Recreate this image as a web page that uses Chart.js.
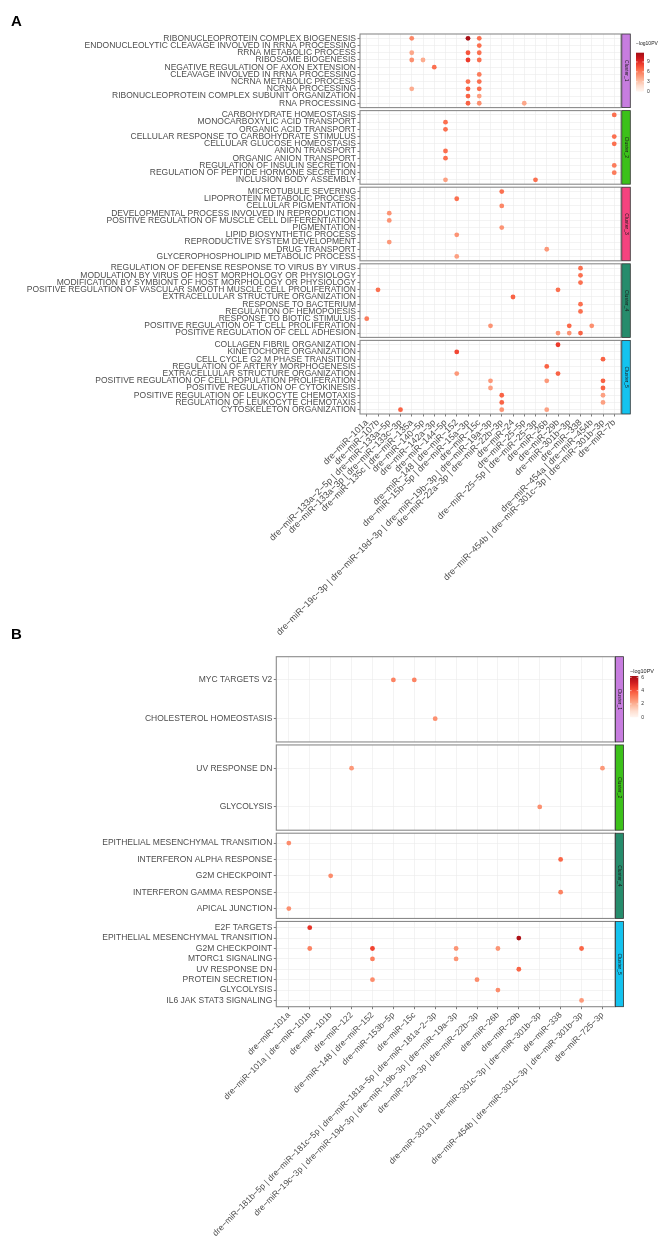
<!DOCTYPE html>
<html>
<head>
<meta charset="utf-8">
<script src="https://cdn.jsdelivr.net/npm/chart.js@4.4.1/dist/chart.umd.min.js"></script>
<style>
  html, body { margin: 0; padding: 0; background: #fff; }
  body { width: 661px; height: 1239px; position: relative; overflow: hidden; }
  canvas { position: absolute; left: 0; }
</style>
</head>
<body>
<canvas id="panelA" width="661" height="660" style="top:0;width:661px;height:660px"></canvas>
<canvas id="panelB" width="661" height="624" style="top:615px;width:661px;height:624px"></canvas>
<script>
// ---- panel A data ----
const A_MIRNAS = [
  'dre-miR-101a', 'dre-miR-107b', 'dre-miR-133a-2-5p | dre-miR-133a-5p',
  'dre-miR-133a-3p | dre-miR-133c-3p', 'dre-miR-135c | dre-miR-135a', 'dre-miR-140-5p',
  'dre-miR-142a-3p', 'dre-miR-144-5p', 'dre-miR-148 | dre-miR-152',
  'dre-miR-15b-5p | dre-miR-15a-3p', 'dre-miR-15c',
  'dre-miR-19c-3p | dre-miR-19d-3p | dre-miR-19b-3p | dre-miR-19a-3p',
  'dre-miR-22a-3p | dre-miR-22b-3p', 'dre-miR-24', 'dre-miR-25-5p',
  'dre-miR-25-5p | dre-miR-25-3p', 'dre-miR-26b', 'dre-miR-29b', 'dre-miR-301b-3p',
  'dre-miR-338', 'dre-miR-454a | dre-miR-454b',
  'dre-miR-454b | dre-miR-301c-3p | dre-miR-301b-3p', 'dre-miR-7b'
];
const A_CLUSTERS = ['Cluster_1', 'Cluster_2', 'Cluster_3', 'Cluster_4', 'Cluster_5'];

const A_C1_TERMS = ['RIBONUCLEOPROTEIN COMPLEX BIOGENESIS', 'ENDONUCLEOLYTIC CLEAVAGE INVOLVED IN RRNA PROCESSING',
  'RRNA METABOLIC PROCESS', 'RIBOSOME BIOGENESIS', 'NEGATIVE REGULATION OF AXON EXTENSION',
  'CLEAVAGE INVOLVED IN RRNA PROCESSING', 'NCRNA METABOLIC PROCESS', 'NCRNA PROCESSING',
  'RIBONUCLEOPROTEIN COMPLEX SUBUNIT ORGANIZATION', 'RNA PROCESSING'];
const A_C2_TERMS = ['CARBOHYDRATE HOMEOSTASIS', 'MONOCARBOXYLIC ACID TRANSPORT', 'ORGANIC ACID TRANSPORT',
  'CELLULAR RESPONSE TO CARBOHYDRATE STIMULUS', 'CELLULAR GLUCOSE HOMEOSTASIS', 'ANION TRANSPORT',
  'ORGANIC ANION TRANSPORT', 'REGULATION OF INSULIN SECRETION', 'REGULATION OF PEPTIDE HORMONE SECRETION',
  'INCLUSION BODY ASSEMBLY'];
const A_C3_TERMS = ['MICROTUBULE SEVERING', 'LIPOPROTEIN METABOLIC PROCESS', 'CELLULAR PIGMENTATION',
  'DEVELOPMENTAL PROCESS INVOLVED IN REPRODUCTION', 'POSITIVE REGULATION OF MUSCLE CELL DIFFERENTIATION',
  'PIGMENTATION', 'LIPID BIOSYNTHETIC PROCESS', 'REPRODUCTIVE SYSTEM DEVELOPMENT', 'DRUG TRANSPORT',
  'GLYCEROPHOSPHOLIPID METABOLIC PROCESS'];
const A_C4_TERMS = ['REGULATION OF DEFENSE RESPONSE TO VIRUS BY VIRUS', 'MODULATION BY VIRUS OF HOST MORPHOLOGY OR PHYSIOLOGY',
  'MODIFICATION BY SYMBIONT OF HOST MORPHOLOGY OR PHYSIOLOGY',
  'POSITIVE REGULATION OF VASCULAR SMOOTH MUSCLE CELL PROLIFERATION', 'EXTRACELLULAR STRUCTURE ORGANIZATION',
  'RESPONSE TO BACTERIUM', 'REGULATION OF HEMOPOIESIS', 'RESPONSE TO BIOTIC STIMULUS',
  'POSITIVE REGULATION OF T CELL PROLIFERATION', 'POSITIVE REGULATION OF CELL ADHESION'];
const A_C5_TERMS = ['COLLAGEN FIBRIL ORGANIZATION', 'KINETOCHORE ORGANIZATION', 'CELL CYCLE G2 M PHASE TRANSITION',
  'REGULATION OF ARTERY MORPHOGENESIS', 'EXTRACELLULAR STRUCTURE ORGANIZATION',
  'POSITIVE REGULATION OF CELL POPULATION PROLIFERATION', 'POSITIVE REGULATION OF CYTOKINESIS',
  'POSITIVE REGULATION OF LEUKOCYTE CHEMOTAXIS', 'REGULATION OF LEUKOCYTE CHEMOTAXIS', 'CYTOSKELETON ORGANIZATION'];

// hits: [term index, miRNA index, -log10PV]
const A_C1_HITS = [[0, 4, 5.5], [0, 9, 11.6], [0, 10, 6.5], [1, 10, 6.5], [2, 4, 4.2], [2, 9, 7.5], [2, 10, 6.5],
  [3, 4, 5.2], [3, 5, 4.0], [3, 9, 8.5], [3, 10, 6.5], [4, 6, 6.5], [5, 10, 6.0], [6, 9, 6.5], [6, 10, 6.5],
  [7, 4, 4.0], [7, 9, 7.0], [7, 10, 6.5], [8, 9, 7.0], [8, 10, 4.5], [9, 9, 7.0], [9, 10, 5.2], [9, 14, 4.2]];
const A_C2_HITS = [[0, 22, 6.5], [1, 7, 6.5], [2, 7, 6.5], [3, 22, 6.5], [4, 22, 6.5], [5, 7, 6.5], [6, 7, 6.5],
  [7, 22, 6.0], [8, 22, 6.0], [9, 7, 4.5], [9, 15, 6.5]];
const A_C3_HITS = [[0, 12, 6.5], [1, 8, 6.5], [2, 12, 5.5], [3, 2, 5.0], [4, 2, 5.0], [5, 12, 5.0], [6, 8, 5.0],
  [7, 2, 4.8], [8, 16, 4.8], [9, 8, 4.5]];
const A_C4_HITS = [[0, 19, 6.5], [1, 19, 6.5], [2, 19, 6.5], [3, 1, 6.5], [3, 17, 6.5], [4, 13, 7.0], [5, 19, 6.5],
  [6, 19, 6.5], [7, 0, 6.0], [8, 11, 5.0], [8, 18, 6.8], [8, 20, 5.2], [9, 17, 5.0], [9, 18, 5.0], [9, 19, 7.0]];
const A_C5_HITS = [[0, 17, 8.5], [1, 8, 8.0], [2, 21, 7.0], [3, 16, 7.0], [4, 8, 4.8], [4, 17, 7.0], [5, 11, 4.8],
  [5, 16, 4.8], [5, 21, 7.0], [6, 11, 4.5], [6, 21, 7.0], [7, 12, 7.0], [7, 21, 4.5], [8, 12, 7.0], [8, 21, 4.5],
  [9, 3, 7.0], [9, 12, 5.0], [9, 16, 4.5]];
const A_LEGEND_TICKS = [0, 3, 6, 9];
const A_MAX = 11.8;

// ---- panel B data ----
const B_MIRNAS = [
  'dre-miR-101a', 'dre-miR-101a | dre-miR-101b', 'dre-miR-101b', 'dre-miR-122', 'dre-miR-148 | dre-miR-152',
  'dre-miR-153b-5p', 'dre-miR-15c',
  'dre-miR-181b-5p | dre-miR-181c-5p | dre-miR-181a-5p | dre-miR-181a-2-3p',
  'dre-miR-19c-3p | dre-miR-19d-3p | dre-miR-19b-3p | dre-miR-19a-3p',
  'dre-miR-22a-3p | dre-miR-22b-3p', 'dre-miR-26b', 'dre-miR-29b',
  'dre-miR-301a | dre-miR-301c-3p | dre-miR-301b-3p', 'dre-miR-338',
  'dre-miR-454b | dre-miR-301c-3p | dre-miR-301b-3p', 'dre-miR-725-3p'
];
const B_CLUSTERS = ['Cluster_1', 'Cluster_2', 'Cluster_4', 'Cluster_5'];
const B_C1_TERMS = ['MYC TARGETS V2', 'CHOLESTEROL HOMEOSTASIS'];
const B_C2_TERMS = ['UV RESPONSE DN', 'GLYCOLYSIS'];
const B_C4_TERMS = ['EPITHELIAL MESENCHYMAL TRANSITION', 'INTERFERON ALPHA RESPONSE', 'G2M CHECKPOINT',
  'INTERFERON GAMMA RESPONSE', 'APICAL JUNCTION'];
const B_C5_TERMS = ['E2F TARGETS', 'EPITHELIAL MESENCHYMAL TRANSITION', 'G2M CHECKPOINT', 'MTORC1 SIGNALING',
  'UV RESPONSE DN', 'PROTEIN SECRETION', 'GLYCOLYSIS', 'IL6 JAK STAT3 SIGNALING'];
const B_C1_HITS = [[0, 5, 3.0], [0, 6, 3.0], [1, 7, 2.7]];
const B_C2_HITS = [[0, 3, 2.5], [0, 15, 2.5], [1, 12, 2.7]];
const B_C4_HITS = [[0, 0, 2.8], [1, 13, 3.6], [2, 2, 2.8], [3, 13, 3.0], [4, 0, 2.7]];
const B_C5_HITS = [[0, 1, 4.6], [1, 11, 6.0], [2, 1, 3.0], [2, 4, 4.3], [2, 8, 2.6], [2, 10, 2.6], [2, 14, 3.6],
  [3, 4, 3.1], [3, 8, 2.6], [4, 11, 3.6], [5, 4, 2.8], [5, 9, 2.8], [6, 10, 2.8], [7, 14, 2.5]];
const B_LEGEND_TICKS = [0, 2, 4, 6];
const B_MAX = 6.2;

const STRIP_COLORS = { Cluster_1: '#c77ddf', Cluster_2: '#3cc11a', Cluster_3: '#f5437f', Cluster_4: '#268c6c', Cluster_5: '#14c3ef' };
const REDS = ['#fff5f0', '#fee0d2', '#fcbba1', '#fc9272', '#fb6a4a', '#ef3b2c', '#cb181d', '#a50f15'];
const FONT = "'Liberation Sans', Arial, sans-serif";

function hexRgb(c) { return [1, 3, 5].map(i => parseInt(c.substr(i, 2), 16)); }
function redsAt(t) {
  t = Math.max(0, Math.min(1, t));
  const p = t * (REDS.length - 1);
  const i = Math.min(Math.floor(p), REDS.length - 2);
  const f = p - i;
  const a = hexRgb(REDS[i]), b = hexRgb(REDS[i + 1]);
  return 'rgb(' + a.map((v, k) => Math.round(v + (b[k] - v) * f)).join(',') + ')';
}
const disp = s => s.replace(/-/g, '\u2212');

// facet_grid style: each facet same height, rows spread with 0.6 expansion
function facetLayout(termLists, facetH, gap) {
  let top = 0;
  return termLists.map(terms => {
    const unit = facetH / (terms.length - 1 + 1.2);
    const f = { top, bottom: top + facetH, rows: terms.map((_, i) => top + (0.6 + i) * unit) };
    top += facetH + gap;
    return f;
  });
}

const facetPlugin = {
  id: 'facets',
  beforeDatasetsDraw(chart, args, o) {
    const { ctx, chartArea: a } = chart;
    const y = chart.scales.y;
    ctx.save();
    ctx.fillStyle = '#fff';
    o.facets.forEach((f, i) => {
      if (!i) return;
      const b0 = y.getPixelForValue(o.facets[i - 1].bottom);
      const t1 = y.getPixelForValue(f.top);
      ctx.fillRect(a.left - 1, b0, a.width + 2, t1 - b0);
    });
    ctx.strokeStyle = '#8a8a8a';
    ctx.lineWidth = 1.1;
    o.facets.forEach(f => {
      const t = y.getPixelForValue(f.top), b = y.getPixelForValue(f.bottom);
      ctx.strokeRect(a.left, t, a.width, b - t);
    });
    ctx.restore();
  },
  afterDraw(chart, args, o) {
    const { ctx, chartArea: a } = chart;
    const y = chart.scales.y;
    ctx.save();
    // strips
    o.facets.forEach((f, i) => {
      const t = y.getPixelForValue(f.top), b = y.getPixelForValue(f.bottom);
      const x0 = a.right + o.stripGap;
      ctx.fillStyle = STRIP_COLORS[o.clusters[i]];
      ctx.fillRect(x0, t, o.stripW, b - t);
      ctx.strokeStyle = '#333';
      ctx.lineWidth = 0.8;
      ctx.strokeRect(x0, t, o.stripW, b - t);
      ctx.save();
      ctx.translate(x0 + o.stripW / 2, (t + b) / 2);
      ctx.rotate(Math.PI / 2);
      ctx.fillStyle = '#1a1a1a';
      ctx.font = '5px ' + FONT;
      ctx.textAlign = 'center';
      ctx.textBaseline = 'middle';
      ctx.fillText(o.clusters[i], 0, 0);
      ctx.restore();
    });
    // colour bar legend
    const L = o.legend;
    ctx.fillStyle = '#222';
    ctx.font = L.titleFont + 'px ' + FONT;
    ctx.textAlign = 'left';
    ctx.textBaseline = 'middle';
    ctx.fillText('\u2212log10PV', L.x, L.titleY);
    const g = ctx.createLinearGradient(0, L.bottom, 0, L.top);
    for (let k = 0; k <= 20; k++) g.addColorStop(k / 20, redsAt(k / 20));
    ctx.fillStyle = g;
    ctx.fillRect(L.x, L.top, L.w, L.bottom - L.top);
    ctx.font = '5px ' + FONT;
    L.ticks.forEach(v => {
      const ty = L.bottom - (v / L.max) * (L.bottom - L.top);
      ctx.strokeStyle = '#fff';
      ctx.lineWidth = 0.6;
      ctx.beginPath();
      ctx.moveTo(L.x, ty); ctx.lineTo(L.x + 1.6, ty);
      ctx.moveTo(L.x + L.w - 1.6, ty); ctx.lineTo(L.x + L.w, ty);
      ctx.stroke();
      ctx.fillStyle = '#333';
      ctx.fillText(String(v), L.x + L.w + 3, ty);
    });
    // panel letter
    ctx.fillStyle = '#000';
    ctx.font = 'bold 15px ' + FONT;
    ctx.fillText(o.letter, 11, o.letterY);
    ctx.restore();
  }
};

function buildPanel(id, cfg) {
  const facets = facetLayout(cfg.terms, cfg.facetH, cfg.gap);
  const total = facets[facets.length - 1].bottom;
  const rowTicks = [], rowLabels = [];
  facets.forEach((f, ci) => f.rows.forEach((r, i) => { rowTicks.push(r); rowLabels.push(cfg.terms[ci][i]); }));
  const points = [];
  cfg.hits.forEach((hits, ci) => hits.forEach(([t, m, v]) => points.push({ x: m, y: facets[ci].rows[t], v })));

  return new Chart(document.getElementById(id), {
    type: 'scatter',
    data: {
      datasets: [{
        data: points,
        pointRadius: 2.4,
        pointHoverRadius: 2.4,
        pointBorderWidth: 0,
        pointBackgroundColor: c => redsAt(c.raw.v / cfg.vmax)
      }]
    },
    options: {
      responsive: false,
      animation: false,
      layout: { padding: { top: cfg.padTop, right: cfg.padRight, left: 0, bottom: 0 } },
      plugins: {
        legend: { display: false },
        tooltip: { enabled: false },
        facets: {
          facets, clusters: cfg.clusters, stripGap: cfg.stripGap, stripW: cfg.stripW,
          legend: cfg.legend, letter: cfg.letter, letterY: cfg.letterY
        }
      },
      scales: {
        x: {
          type: 'linear',
          bounds: 'data',
          min: -0.6,
          max: cfg.mirnas.length - 0.4,
          afterBuildTicks: s => { s.ticks = cfg.mirnas.map((_, i) => ({ value: i })); },
          afterFit: s => { s.height = cfg.xAxisH; },
          border: { display: false },
          grid: { color: '#ebebeb', lineWidth: 0.6, tickColor: '#444', tickLength: 2.5, tickWidth: 0.7 },
          ticks: {
            autoSkip: false, minRotation: 45, maxRotation: 45, padding: 1,
            color: '#4d4d4d', font: { family: FONT, size: cfg.xFont },
            callback: (v, i) => disp(cfg.mirnas[i])
          }
        },
        y: {
          type: 'linear',
          bounds: 'data',
          reverse: true,
          min: 0,
          max: total,
          afterBuildTicks: s => { s.ticks = rowTicks.map(v => ({ value: v })); },
          afterFit: s => { s.width = cfg.yAxisW; },
          border: { display: false },
          grid: { color: '#ebebeb', lineWidth: 0.6, tickColor: '#444', tickLength: 2.5, tickWidth: 0.7 },
          ticks: {
            autoSkip: false, padding: 1.5,
            color: '#4d4d4d', font: { family: FONT, size: cfg.yFont },
            callback: (v, i) => rowLabels[i]
          }
        }
      }
    },
    plugins: [facetPlugin]
  });
}

buildPanel('panelA', {
  mirnas: A_MIRNAS,
  clusters: A_CLUSTERS,
  terms: [A_C1_TERMS, A_C2_TERMS, A_C3_TERMS, A_C4_TERMS, A_C5_TERMS],
  hits: [A_C1_HITS, A_C2_HITS, A_C3_HITS, A_C4_HITS, A_C5_HITS],
  vmax: A_MAX,
  facetH: 73.6, gap: 3,
  padTop: 34, padRight: 40, yAxisW: 360, xAxisH: 246,
  xFont: 9, yFont: 8.5,
  stripGap: 0.8, stripW: 8.5,
  legend: { x: 636, titleY: 44, titleFont: 5, top: 52.7, bottom: 91.7, w: 8, max: A_MAX, ticks: A_LEGEND_TICKS },
  letter: 'A', letterY: 22
});

buildPanel('panelB', {
  mirnas: B_MIRNAS,
  clusters: B_CLUSTERS,
  terms: [B_C1_TERMS, B_C2_TERMS, B_C4_TERMS, B_C5_TERMS],
  hits: [B_C1_HITS, B_C2_HITS, B_C4_HITS, B_C5_HITS],
  vmax: B_MAX,
  facetH: 85.25, gap: 3,
  padTop: 41.7, padRight: 46, yAxisW: 276.3, xAxisH: 232.3,
  xFont: 8.5, yFont: 8.5,
  stripGap: 0.5, stripW: 8,
  legend: { x: 630, titleY: 56.7, titleFont: 5.5, top: 61, bottom: 102.3, w: 8.3, max: B_MAX, ticks: B_LEGEND_TICKS },
  letter: 'B', letterY: 20
});
</script>
</body>
</html>
